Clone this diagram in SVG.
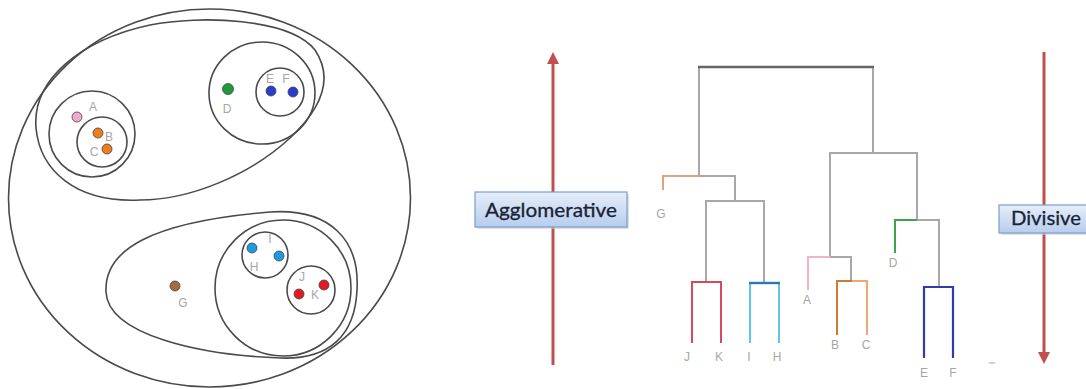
<svg xmlns="http://www.w3.org/2000/svg" width="1086" height="389" viewBox="0 0 1086 389">
  <style>
    .ring { fill: none; stroke: #4a4a4a; stroke-width: 1.6; }
    .pt { stroke: #444; stroke-width: 0.8; }
    .lbl { font-family: "Liberation Sans", Arial, sans-serif; font-size: 12px; fill: #a6a6a6; text-anchor: middle; }
    .dl { fill: none; stroke: #a8a8a8; stroke-width: 2; }
    .box { fill: url(#boxGrad); stroke: #7d9dc9; stroke-width: 1.2; }
    .shadow { fill: #c9ccd2; opacity: 0.6; }
    .boxText { font-family: Lato, "Open Sans", "Liberation Sans", sans-serif; font-size: 20px; fill: #1a2333; stroke: #1a2333; stroke-width: 0.3; }
    .axis { stroke: #c0504d; stroke-width: 3; fill: none; }
  </style>
  <defs>
    <linearGradient id="boxGrad" x1="0" y1="0" x2="0" y2="1">
      <stop offset="0" stop-color="#e6eefa"/>
      <stop offset="1" stop-color="#b7cdee"/>
    </linearGradient>
    <marker id="head" viewBox="0 0 10 10" refX="5" refY="5" markerWidth="4" markerHeight="4" orient="auto-start-reverse">
      <path d="M0,0 L10,5 L0,10 Z" fill="#c0504d"/>
    </marker>
  </defs>
  <rect width="1086" height="389" fill="#ffffff"/>

  <!-- nested clusters -->
  <g id="clusters">
    <ellipse id="all" class="ring" cx="209.5" cy="198" rx="201" ry="189"/>
    <path id="abcdef" class="ring" d="M36,128 C32,80 80,40 150,25 C200,15 290,18 315,50 C335,80 320,110 290,138 C250,175 190,200 140,200 C75,203 40,170 36,128 Z"/>
    <circle id="abc" class="ring" cx="92" cy="134" r="43"/>
    <circle id="bc" class="ring" cx="102" cy="142" r="25"/>
    <ellipse id="def" class="ring" cx="262" cy="93" rx="53" ry="51"/>
    <circle id="ef" class="ring" cx="280" cy="92" r="24"/>
    <path id="ghijk" class="ring" d="M106,292 C104,250 150,222 270,212 C330,208 360,240 357,290 C355,335 330,360 280,358 C200,355 108,335 106,292 Z"/>
    <circle id="hijk" class="ring" cx="283" cy="288" r="68"/>
    <circle id="hi" class="ring" cx="265" cy="255" r="23"/>
    <circle id="jk" class="ring" cx="311" cy="290" r="24"/>
  </g>

  <!-- data points -->
  <g id="pointA"><circle class="pt" cx="77" cy="117" r="5" fill="#f3a9cf"/><text class="lbl" x="93" y="111">A</text></g>
  <g id="pointB"><circle class="pt" cx="98" cy="133" r="5" fill="#ee7d1c"/><text class="lbl" x="109" y="141">B</text></g>
  <g id="pointC"><circle class="pt" cx="107" cy="149" r="5" fill="#ee7d1c"/><text class="lbl" x="94" y="156">C</text></g>
  <g id="pointD"><circle class="pt" cx="228" cy="89" r="5.5" fill="#1f9a3a"/><text class="lbl" x="227" y="113">D</text></g>
  <g id="pointE"><circle class="pt" cx="271" cy="91" r="5" fill="#2a3bd0"/><text class="lbl" x="270" y="83">E</text></g>
  <g id="pointF"><circle class="pt" cx="293" cy="92" r="5" fill="#2a3bd0"/><text class="lbl" x="286" y="83">F</text></g>
  <g id="pointG"><circle class="pt" cx="175" cy="286" r="5" fill="#a86a3c"/><text class="lbl" x="183" y="307">G</text></g>
  <g id="pointH"><circle class="pt" cx="252" cy="248" r="5" fill="#1e9be0"/><text class="lbl" x="254" y="271">H</text></g>
  <g id="pointI"><circle class="pt" cx="279" cy="256" r="5" fill="#1e9be0"/><text class="lbl" x="270" y="243">I</text></g>
  <g id="pointJ"><circle class="pt" cx="324" cy="285" r="5" fill="#e01b24"/><text class="lbl" x="302" y="281">J</text></g>
  <g id="pointK"><circle class="pt" cx="299" cy="294" r="5" fill="#e01b24"/><text class="lbl" x="315" y="299">K</text></g>

  <!-- direction arrows -->
  <g id="connectors">
    <line class="axis" x1="553" y1="365" x2="553" y2="58" marker-end="url(#head)"/>
    <line class="axis" x1="1044" y1="52" x2="1044" y2="358" marker-end="url(#head)"/>
  </g>

  <!-- dendrogram -->
  <g id="dendrogram">
    <path class="dl" d="M699,176 V67 M873,67 V153"/>
    <path d="M698,67 H874" fill="none" stroke="#666666" stroke-width="2.6"/>
    <path class="dl" d="M699,176 H735 V201"/>
    <path d="M663,190 V176 H699" fill="none" stroke="#e2a27a" stroke-width="2"/>
    <path class="dl" d="M706,282 V201 H764 V282"/>
    <path d="M692,343 V282 H721 V343" fill="none" stroke="#d64a5a" stroke-width="2"/>
    <path d="M750,343 V283 M779,343 V283" fill="none" stroke="#5cc6ef" stroke-width="2"/>
    <path d="M749,283 H780" fill="none" stroke="#2b78b8" stroke-width="2.4"/>
    <path class="dl" d="M830,257 V153 H917 V220"/>
    <path class="dl" d="M830,257 H851 V281"/>
    <path d="M808,290 V257 H830" fill="none" stroke="#f0b4c8" stroke-width="2"/>
    <path d="M837,335 V281 H852" fill="none" stroke="#d07a3a" stroke-width="2"/>
    <path d="M852,281 H867 V335" fill="none" stroke="#f3a66e" stroke-width="2"/>
    <path d="M895,253 V220 H917" fill="none" stroke="#3aa64a" stroke-width="2"/>
    <path class="dl" d="M917,220 H939 V287"/>
    <path d="M924,358 V287 H953 V358" fill="none" stroke="#2f3da8" stroke-width="2.2"/>
    <text class="lbl" x="661" y="218">G</text>
    <text class="lbl" x="687" y="361">J</text>
    <text class="lbl" x="719" y="361">K</text>
    <text class="lbl" x="749" y="361">I</text>
    <text class="lbl" x="777" y="361">H</text>
    <text class="lbl" x="807" y="304">A</text>
    <text class="lbl" x="835" y="349">B</text>
    <text class="lbl" x="866" y="349">C</text>
    <text class="lbl" x="893" y="267">D</text>
    <text class="lbl" x="924" y="377">E</text>
    <text class="lbl" x="953" y="377">F</text>
    <line x1="989" y1="363" x2="995" y2="363" stroke="#a6a6a6" stroke-width="1"/>
  </g>

  <!-- labels on the arrows -->
  <g id="agglomerative">
    <rect class="shadow" x="477" y="194" width="152" height="35"/>
    <rect class="box" x="475" y="192" width="152" height="35"/>
    <text class="boxText" x="485" y="217" textLength="132" lengthAdjust="spacingAndGlyphs">Agglomerative</text>
  </g>
  <g id="divisive">
    <rect class="shadow" x="1001" y="207" width="100" height="28"/>
    <rect class="box" x="999" y="205" width="100" height="28"/>
    <text class="boxText" x="1011" y="225" textLength="70" lengthAdjust="spacingAndGlyphs">Divisive</text>
  </g>
</svg>
